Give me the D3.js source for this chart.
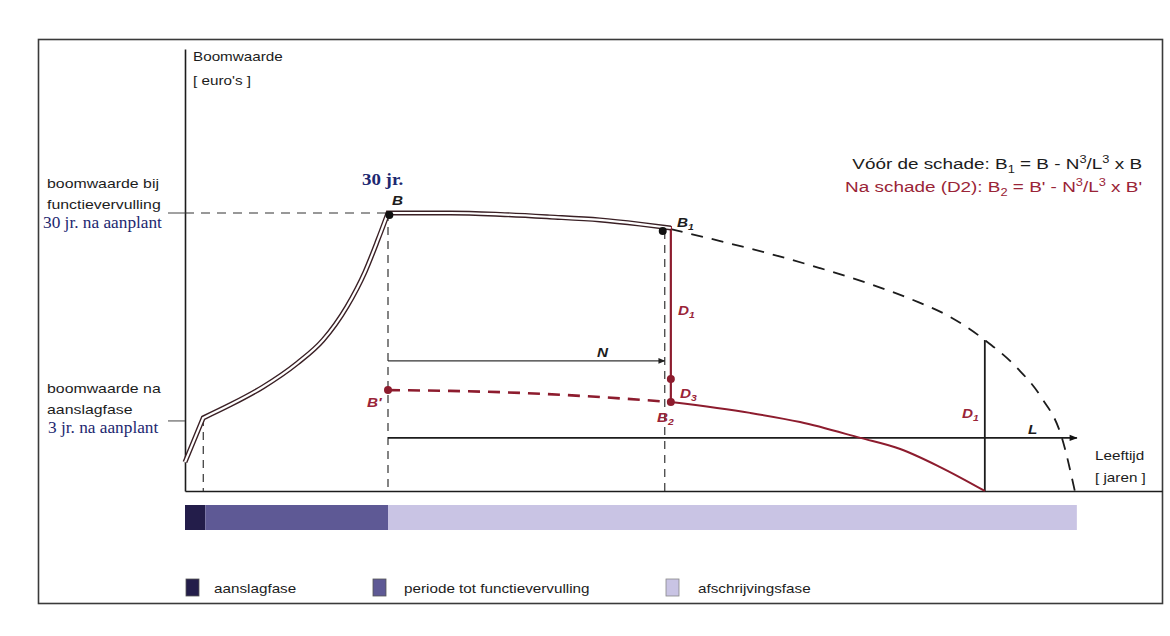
<!DOCTYPE html>
<html><head><meta charset="utf-8">
<script src="https://cdn.jsdelivr.net/npm/d3@7"></script>
<style>body{margin:0;background:#fff}svg{display:block}</style>
</head><body>
<svg id="chart" width="1170" height="636"></svg>
<script>
// ---------------- data (age in years, value in % of B) ----------------
const phaseBounds = [0, 3, 30, 131.8];
const phaseNames = ["aanslagfase", "periode tot functievervulling", "afschrijvingsfase"];
const phaseColors = ["#231d4a", "#5e5995", "#c9c4e4"];

const growthAge = [0, 2.7, 6.6, 11.5, 16.6, 20.4, 23.9, 26.6, 28.5, 30];
const growthVal = [10.4, 26.3, 30.9, 37.4, 46.0, 54.3, 66.2, 78.8, 90.3, 100];
const plateauAge = [30, 39.2, 46.6, 53.9, 61.3, 67.2, 71.8];
const plateauVal = [100, 100, 99.5, 98.6, 97.5, 96.0, 94.6];
const undamagedAge = [71.8, 79.1, 86.5, 93.8, 101.2, 107.6, 113.1, 118.2, 123, 126.4, 129.6, 131.5];
const undamagedVal = [94.2, 89.9, 85.3, 80.2, 74.5, 68.7, 62.6, 54.3, 44.2, 34.2, 19.1, 0];
const reducedAge = [30, 39.2, 49.5, 61.3, 71.8];
const reducedVal = [36.3, 36.0, 35.3, 33.8, 32.0];
const damagedAge = [71.8, 83.5, 90.9, 99.8, 105.7, 111.6, 118.2];
const damagedVal = [32.0, 28.1, 24.8, 19.1, 15.1, 8.6, 0];

const ageAanslag = 2.7, ageFunctie = 30, ageGuideN = 70.9, ageDamage = 71.8, ageD1 = 118.2, ageEnd = 131.8;
const valB = 100, valB1 = 93.5, valBprime = 36.3, valD3 = 40.3, valB2 = 32.0, valD1Top = 54.3;
const valAanslag = 25.2, valN = 46.8, valL = 19.1;
const yTop = 159, xRight = 144.4;

// ---------------- scales ----------------
const x = d3.scaleLinear().domain([0, 30]).range([185, 388]);
const y = d3.scaleLinear().domain([0, 100]).range([491, 213]);

const svg = d3.select("#chart");
const ink = "#1c1c1c", red = "#8d1c2e", redText = "#9a2437", navy = "#1d2870";
const SX = 1.22;

svg.append("defs").html(`
 <marker id="arr" viewBox="0 0 10 10" refX="9" refY="5" markerWidth="7" markerHeight="7" markerUnits="userSpaceOnUse" orient="auto"><path d="M0,1L10,5L0,9z" fill="#222"/></marker>
 <marker id="arr2" viewBox="0 0 10 10" refX="9" refY="5" markerWidth="9" markerHeight="8" markerUnits="userSpaceOnUse" orient="auto"><path d="M0,1L10,5L0,9z" fill="#111"/></marker>`);

// frame
svg.append("rect").attr("x", 38.5).attr("y", 39.5).attr("width", 1124).attr("height", 564)
  .attr("fill", "none").attr("stroke", "#3a3a3a").attr("stroke-width", 1.6);

// axes (no ticks)
const yAx = y.copy().domain([0, yTop]).range([y(0), y(yTop)]);
svg.append("g").attr("transform", `translate(${x(0)},0)`)
  .call(d3.axisLeft(yAx).tickValues([]).tickSizeOuter(0))
  .select(".domain").attr("stroke", ink).attr("stroke-width", 1.6);
const xAx = x.copy().domain([0, xRight]).range([x(0), x(xRight)]);
svg.append("g").attr("transform", `translate(0,${y(0)})`)
  .call(d3.axisBottom(xAx).tickValues([]).tickSizeOuter(0))
  .select(".domain").attr("stroke", ink).attr("stroke-width", 1.6);

// dashed guides
const guide = (x1, y1, x2, y2, dash) => svg.append("line")
  .attr("x1", x1).attr("y1", y1).attr("x2", x2).attr("y2", y2)
  .attr("stroke", "#333").attr("stroke-width", 1.2).attr("stroke-dasharray", dash || "8,6");
guide(x(ageAanslag), y(growthVal[1]), x(ageAanslag), y(0));
guide(x(ageFunctie), y(valB), x(ageFunctie), y(0));
guide(x(ageGuideN), y(valB1), x(ageGuideN), y(0));
guide(x(0), y(valB), x(ageFunctie), y(valB), "9,7");
// stubs left of the axis
svg.append("line").attr("x1", x(0) - 17).attr("x2", x(0)).attr("y1", y(valB)).attr("y2", y(valB)).attr("stroke", "#444").attr("stroke-width", 1);
svg.append("line").attr("x1", x(0) - 17).attr("x2", x(0)).attr("y1", y(valAanslag)).attr("y2", y(valAanslag)).attr("stroke", "#444").attr("stroke-width", 1);

// N arrow
svg.append("line").attr("x1", x(ageFunctie)).attr("x2", x(ageGuideN)).attr("y1", y(valN)).attr("y2", y(valN))
  .attr("stroke", "#333").attr("stroke-width", 1.1).attr("marker-end", "url(#arr)");
// L axis
svg.append("line").attr("x1", x(ageFunctie)).attr("x2", x(ageEnd)).attr("y1", y(valL)).attr("y2", y(valL))
  .attr("stroke", ink).attr("stroke-width", 1.8).attr("marker-end", "url(#arr2)");
// D1 vertical
svg.append("line").attr("x1", x(ageD1)).attr("x2", x(ageD1)).attr("y1", y(valD1Top)).attr("y2", y(0))
  .attr("stroke", ink).attr("stroke-width", 1.8);

// curves
const pts = (a, v) => a.map((d, i) => [x(d), y(v[i])]);
const lin = d3.line();
const smooth = d3.line().curve(d3.curveMonotoneX);
const strip = s => s.replace(/^M[-\d.,e]+/, "");

// undamaged projection (dashed)
svg.append("path").attr("d", smooth(pts(undamagedAge, undamagedVal)))
  .attr("fill", "none").attr("stroke", ink).attr("stroke-width", 1.8).attr("stroke-dasharray", "12,9");
// reduced value after damage (red dashed)
svg.append("path").attr("d", smooth(pts(reducedAge, reducedVal)))
  .attr("fill", "none").attr("stroke", red).attr("stroke-width", 2.6).attr("stroke-dasharray", "12,8");
// damaged depreciation (red solid)
svg.append("path").attr("d", smooth(pts(damagedAge, damagedVal)))
  .attr("fill", "none").attr("stroke", red).attr("stroke-width", 2);
// red drop line
svg.append("line").attr("x1", x(ageDamage)).attr("x2", x(ageDamage)).attr("y1", y(plateauVal[plateauVal.length - 1]) - 2).attr("y2", y(valB2))
  .attr("stroke", red).attr("stroke-width", 2.2);

// double line growth + plateau
const gp = pts(growthAge, growthVal);
const dbl = lin(gp.slice(0, 2)) + strip(smooth(gp.slice(1))) + strip(smooth(pts(plateauAge, plateauVal)));
svg.append("path").attr("d", dbl).attr("fill", "none").attr("stroke", "#3a2025").attr("stroke-width", 5).attr("stroke-linejoin", "miter");
svg.append("path").attr("d", dbl).attr("fill", "none").attr("stroke", "#fff").attr("stroke-width", 2.2).attr("stroke-linejoin", "miter");

// dots
const dot = (a, v, c) => svg.append("circle").attr("cx", x(a)).attr("cy", y(v)).attr("r", 4).attr("fill", c);
dot(30.2, 99.3, "#111");
dot(70.6, valB1, "#111");
dot(ageFunctie, valBprime, red);
dot(ageDamage, valD3, red);
dot(ageDamage, valB2, red);

// phase bar
const barY = 505, barH = 25;
svg.append("g").selectAll("rect").data(phaseNames).join("rect")
  .attr("x", (d, i) => x(phaseBounds[i])).attr("width", (d, i) => x(phaseBounds[i + 1]) - x(phaseBounds[i]))
  .attr("y", barY).attr("height", barH).attr("fill", (d, i) => phaseColors[i]);

// text helper
function label(px, py, parts, o) {
  o = Object.assign({ size: 12.5, family: "Liberation Sans, Arial, sans-serif", weight: "normal", style: "normal", fill: ink, anchor: "start", sx: SX }, o || {});
  const t = svg.append("text").attr("transform", `translate(${px},${py}) scale(${o.sx},1)`)
    .attr("font-family", o.family).attr("font-size", o.size).attr("font-weight", o.weight)
    .attr("font-style", o.style).attr("fill", o.fill).attr("text-anchor", o.anchor);
  let shift = 0;
  (Array.isArray(parts) ? parts : [[parts]]).forEach(([s, k]) => {
    const sp = t.append("tspan").text(s);
    const target = k === "sub" ? 0.25 : k === "sup" ? -0.4 : 0;
    if (k) sp.attr("font-size", o.size * 0.68);
    const dy = (target - shift) * o.size;
    if (dy) sp.attr("dy", dy);
    shift = target;
  });
  return t;
}
const serif = "Liberation Serif, Times New Roman, serif";
const bi = { weight: "bold", style: "italic", size: 12.5 };

label(193, 61, "Boomwaarde");
label(193, 85, "[ euro's ]");
label(47, 188, "boomwaarde bij", { size: 13 });
label(47, 209, "functievervulling", { size: 13 });
label(43, 228, "30 jr. na aanplant", { size: 16, family: serif, fill: navy, sx: 1.08 });
label(47, 393, "boomwaarde na", { size: 13 });
label(47, 414, "aanslagfase", { size: 13 });
label(48, 433, "3 jr. na aanplant", { size: 16, family: serif, fill: navy, sx: 1.08 });
label(362, 185, "30 jr.", { size: 17.5, family: serif, weight: "bold", fill: navy, sx: 1.08 });

label(392, 205, "B", bi);
label(677, 227, [["B"], ["1", "sub"]], bi);
label(678, 315, [["D"], ["1", "sub"]], Object.assign({}, bi, { fill: redText }));
label(597, 357, "N", bi);
label(680, 398, [["D"], ["3", "sub"]], Object.assign({}, bi, { fill: redText }));
label(657, 422, [["B"], ["2", "sub"]], Object.assign({}, bi, { fill: redText }));
label(367, 407, "B'", Object.assign({}, bi, { fill: redText }));
label(962, 418, [["D"], ["1", "sub"]], Object.assign({}, bi, { fill: redText }));
label(1028, 434, "L", bi);
label(1095, 460, "Leeftijd");
label(1095, 482, "[ jaren ]");

label(1142, 169, [["Vóór de schade: B"], ["1", "sub"], [" = B - N"], ["3", "sup"], ["/L"], ["3", "sup"], [" x B"]], { size: 15.5, anchor: "end" });
label(1142, 192, [["Na schade (D2): B"], ["2", "sub"], [" = B' - N"], ["3", "sup"], ["/L"], ["3", "sup"], [" x B'"]], { size: 15.5, anchor: "end", fill: redText });

// legend
const legX = [186, 373, 666], legTX = [214, 404, 698];
phaseNames.forEach((n, i) => {
  svg.append("rect").attr("x", legX[i]).attr("y", 579).attr("width", 13).attr("height", 17)
    .attr("fill", phaseColors[i]).attr("stroke", i === 2 ? "#888" : "#555").attr("stroke-width", 0.8);
  label(legTX[i], 593, n, { size: 12.5 });
});
</script>
</body></html>
